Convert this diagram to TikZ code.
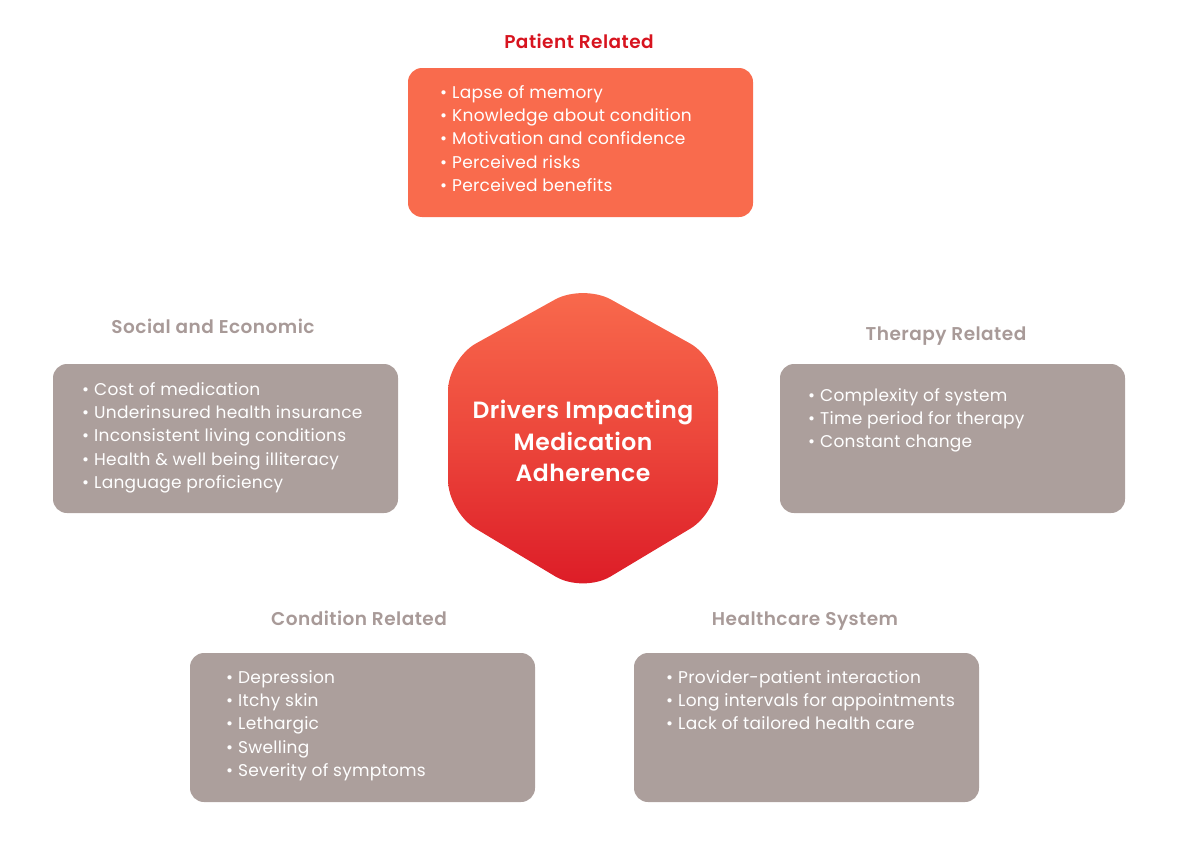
\documentclass[tikz,border=0pt]{standalone}
\usepackage{fontspec}
\setmainfont{Poppins}[LetterSpace=1.5]
\newfontfamily\titlefont{Poppins SemiBold}[LetterSpace=2.5]
\newfontfamily\hexfont{Poppins SemiBold}[LetterSpace=2]
\definecolor{coral}{HTML}{F96B4D}
\definecolor{hexbot}{HTML}{DC1A26}
\definecolor{titlered}{HTML}{D7141F}
\definecolor{boxgray}{HTML}{AC9F9C}
\definecolor{titlegray}{HTML}{A89A98}
\tikzset{
  x=1pt, y=-1pt,
  grbox/.style={fill=boxgray, rounded corners=14pt},
  orbox/.style={fill=coral, rounded corners=14pt},
  grtitle/.style={text=titlegray, font=\titlefont\fontsize{18.5}{20}\selectfont, inner sep=0pt, anchor=base},
  rdtitle/.style={text=titlered, font=\titlefont\fontsize{18.5}{20}\selectfont, inner sep=0pt, anchor=base},
  items/.style={text=white, font=\fontsize{17}{23.3}\selectfont, align=left, anchor=north west, inner sep=0pt},
}
\newcommand{\bl}{\textbullet\hspace{5pt}}
\begin{document}
\begin{tikzpicture}
\useasboundingbox (0,0) rectangle (1177,859);
% boxes
\fill[orbox] (408,68) rectangle (753,217);
\fill[grbox] (53,364) rectangle (398,513);
\fill[grbox] (780,364) rectangle (1125,513);
\fill[grbox] (190,653) rectangle (535,802);
\fill[grbox] (634,653) rectangle (979,802);
% titles
\node[rdtitle] (tpat) at (579,48.5) {Patient Related};
\node[grtitle] (tsoc) at (213,333.5) {Social and Economic};
\node[grtitle] (tthe) at (946,340.5) {Therapy Related};
\node[grtitle] (tcon) at (359,625.5) {Condition Related};
\node[grtitle] (thea) at (805,625.5) {Healthcare System};
% items
\node[items] (ipat) at (440,85) {\bl Lapse of memory\\\bl Knowledge about condition\\\bl Motivation and confidence\\\bl Perceived risks\\\bl Perceived benefits};
\node[items] (isoc) at (82,382) {\bl Cost of medication\\\bl Underinsured health insurance\\\bl Inconsistent living conditions\\\bl Health \& well being illiteracy\\\bl Language proficiency};
\node[items] (ithe) at (808,388) {\bl Complexity of system\\\bl Time period for therapy\\\bl Constant change};
\node[items] (icon) at (226,670) {\bl Depression\\\bl Itchy skin\\\bl Lethargic\\\bl Swelling\\\bl Severity of symptoms};
\node[items] (ihea) at (666,670) {\bl Provider-patient interaction\\\bl Long intervals for appointments\\\bl Lack of tailored health care};
% hexagon
\shade[top color=coral, bottom color=hexbot, middle color=coral!55!hexbot, rounded corners=32pt]
  (448,440) -- (448,359) -- (583,284) -- (718,359) -- (718,512) -- (583,593) -- (448,512) -- cycle;
\node[text=white, font=\hexfont\fontsize{23.5}{31.5}\selectfont, align=center, inner sep=0pt] (hex) at (583,441) {Drivers Impacting\\Medication\\Adherence};
\end{tikzpicture}
\end{document}
